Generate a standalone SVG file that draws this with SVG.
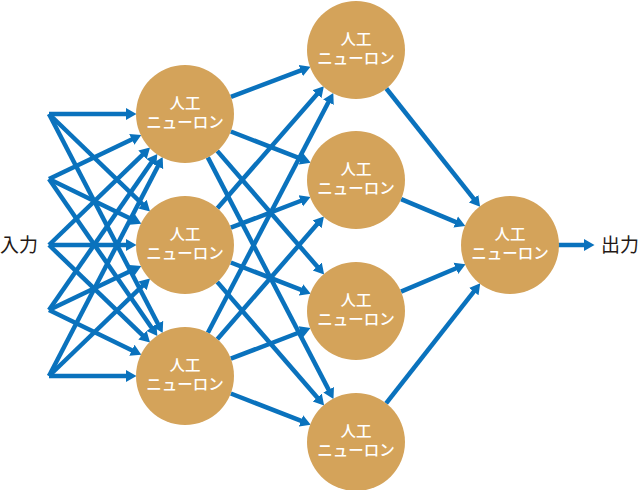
<svg xmlns="http://www.w3.org/2000/svg" width="640" height="490" viewBox="0 0 640 490">
<defs>
<style>
.c{stroke:#0a72bd;stroke-width:4.5;fill:none;marker-end:url(#ah)}
.n{fill:#d4a35a}
.t{font-family:"Noto Sans CJK JP","Noto Sans",sans-serif;font-size:15.5px;fill:#ffffff;text-anchor:middle;font-weight:500}
.l{font-family:"Noto Sans CJK JP","Noto Sans",sans-serif;font-size:19px;fill:#231815}
</style>
<marker id="ah" viewBox="0 -7 12 14" refX="1" refY="0" markerWidth="12" markerHeight="14" markerUnits="userSpaceOnUse" orient="auto">
<path d="M0,-6 L10.5,0 L0,6 z" fill="#0a72bd"/>
</marker>
</defs>
<rect width="640" height="490" fill="#ffffff"/>
<g id="connectors">
<line class="c" x1="49" y1="114" x2="127" y2="114"/>
<line class="c" x1="49" y1="114" x2="143.2" y2="204.8"/>
<line class="c" x1="49" y1="114" x2="158.3" y2="324.5"/>
<line class="c" x1="49" y1="179" x2="132.7" y2="139"/>
<line class="c" x1="49" y1="179" x2="132.8" y2="219.7"/>
<line class="c" x1="49" y1="179" x2="152" y2="328.3"/>
<line class="c" x1="49" y1="245" x2="143.2" y2="154.2"/>
<line class="c" x1="49" y1="245" x2="127" y2="245"/>
<line class="c" x1="49" y1="245" x2="143.2" y2="335.8"/>
<line class="c" x1="49" y1="310" x2="151.9" y2="161.7"/>
<line class="c" x1="49" y1="310" x2="132.7" y2="270"/>
<line class="c" x1="49" y1="310" x2="132.8" y2="350.7"/>
<line class="c" x1="49" y1="376" x2="158.3" y2="165.5"/>
<line class="c" x1="49" y1="376" x2="143.2" y2="285.2"/>
<line class="c" x1="49" y1="376" x2="127" y2="376"/>
<line class="c" x1="230.9" y1="96.9" x2="301.7" y2="70.2"/>
<line class="c" x1="230.8" y1="131.5" x2="301.9" y2="159.2"/>
<line class="c" x1="217.2" y1="150.9" x2="317.9" y2="267.3"/>
<line class="c" x1="207.8" y1="157.4" x2="329.1" y2="390.6"/>
<line class="c" x1="217.4" y1="208.2" x2="317.6" y2="93.5"/>
<line class="c" x1="230.8" y1="227.7" x2="301.7" y2="200.5"/>
<line class="c" x1="230.8" y1="262.5" x2="301.9" y2="290.2"/>
<line class="c" x1="217.2" y1="281.9" x2="317.9" y2="398.3"/>
<line class="c" x1="207.9" y1="332.7" x2="328.9" y2="101.3"/>
<line class="c" x1="217.3" y1="339.2" x2="317.7" y2="223.6"/>
<line class="c" x1="230.8" y1="358.7" x2="301.7" y2="331.5"/>
<line class="c" x1="230.8" y1="393.5" x2="301.9" y2="421.2"/>
<line class="c" x1="386.3" y1="88.5" x2="474.2" y2="199.4"/>
<line class="c" x1="401.1" y1="199.2" x2="456.6" y2="222.3"/>
<line class="c" x1="401" y1="291.6" x2="456.8" y2="268"/>
<line class="c" x1="386.1" y1="403.3" x2="474.4" y2="290.8"/>
<line class="c" x1="558" y1="245" x2="585" y2="245"/>
</g>
<g id="h1"><circle class="n" cx="185" cy="114" r="49"/><text class="t" x="185" y="108.5">人工</text><text class="t" x="185" y="127.5">ニューロン</text></g>
<g id="h2"><circle class="n" cx="185" cy="245" r="49"/><text class="t" x="185" y="239.5">人工</text><text class="t" x="185" y="258.5">ニューロン</text></g>
<g id="h3"><circle class="n" cx="185" cy="376" r="49"/><text class="t" x="185" y="370.5">人工</text><text class="t" x="185" y="389.5">ニューロン</text></g>
<g id="m1"><circle class="n" cx="356" cy="50" r="49"/><text class="t" x="356" y="44.5">人工</text><text class="t" x="356" y="63.5">ニューロン</text></g>
<g id="m2"><circle class="n" cx="356" cy="180" r="49"/><text class="t" x="356" y="174.5">人工</text><text class="t" x="356" y="193.5">ニューロン</text></g>
<g id="m3"><circle class="n" cx="356" cy="311" r="49"/><text class="t" x="356" y="305.5">人工</text><text class="t" x="356" y="324.5">ニューロン</text></g>
<g id="m4"><circle class="n" cx="356" cy="442" r="49"/><text class="t" x="356" y="436.5">人工</text><text class="t" x="356" y="455.5">ニューロン</text></g>
<g id="out"><circle class="n" cx="510" cy="245" r="49"/><text class="t" x="510" y="239.5">人工</text><text class="t" x="510" y="258.5">ニューロン</text></g>
<g id="input-label"><text class="l" x="0" y="252">入力</text></g>
<g id="output-label"><text class="l" x="601" y="252">出力</text></g>
</svg>
